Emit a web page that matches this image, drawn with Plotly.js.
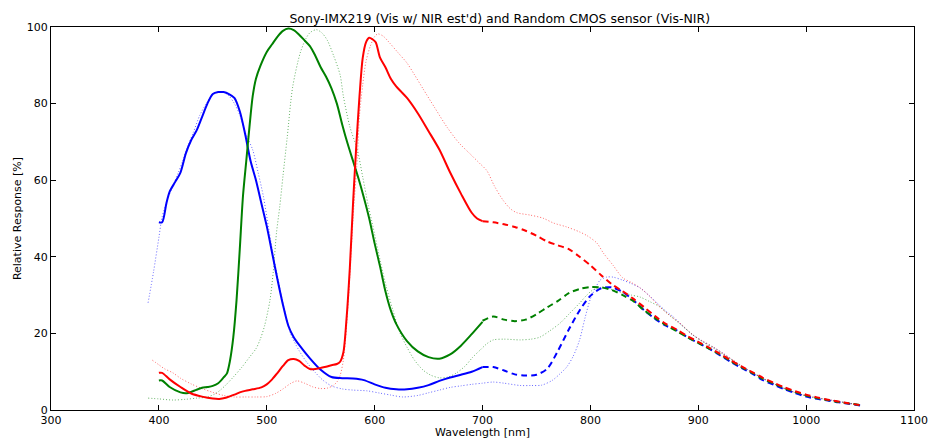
<!DOCTYPE html>
<html><head><meta charset="utf-8">
<script src="https://cdn.plot.ly/plotly-3.0.1.min.js"></script>
<style>html,body{margin:0;padding:0;background:#fff}#chart{width:928px;height:439px}</style>
</head><body><div id="chart"></div>
<script>
// Sony IMX219 measured (solid, Vis) — wavelength [nm] and relative response [%]
const imxBlueX = [400,403,407,410,415,420,425,430,435,440,445,450,455,460,465,470,475,480,485,490,495,500,505,510,515,520,525,530,540,550,560,570,580,590,600,610,620,630,640,650,660,670,680,690,700];
const imxBlueY = [49,49,54,57,59.5,62,67,70.5,73,76.5,80,82.5,83,83,82.5,81.5,78,72,65,60,54,48,41,34,27.5,22,19,17,13.5,10.5,8.6,8.3,8.2,7.8,6.7,5.8,5.4,5.4,5.8,6.5,7.6,8.5,9.2,10,11.2];
const imxGreenX = [400,403,410,420,426,435,440,445,450,455,460,463,466,469,472,475,478,481,484,487,490,494,500,505,510,515,520,525,530,535,540,545,550,555,560,565,570,575,580,585,590,595,600,605,610,615,620,630,640,650,660,670,680,690,700];
const imxGreenY = [7.7,7.7,6,4.6,4.4,5.3,5.8,6,6.3,7,8.5,9.5,13,19,28.7,42,56,65,74,82,86.5,89.8,93.5,95.5,97.5,99,99.6,99.2,98,96.5,95,92.5,89.5,87,84,80,74.5,69.5,65,60.5,55.5,50,43.5,37.5,31,26,22.5,18,15.3,13.8,13.4,14.5,16.8,19.8,23];
const imxRedX = [400,403,410,420,430,440,450,456,462,470,475,480,487,495,500,505,510,515,520,525,530,535,540,545,550,555,560,565,568,571,574,577,580,583,586,589,592,595,598,601,605,610,615,620,625,630,640,650,660,670,680,690,695,700];
const imxRedY = [9.7,9.7,8,6,4.3,3.5,3,2.9,3.2,4,4.6,5,5.4,5.9,6.7,8,9.7,11.5,13,13.3,12.8,11.6,10.7,10.7,11,11.3,11.7,12,12.6,15,24,37,54,69,82,92,96,97.2,96.8,96,92,89.5,86.5,84.5,83,81.5,77.5,72.8,68,62,56.5,51.5,50,49.3];

// Sony IMX219 estimated NIR (dashed)
const nirX = [700,710,720,730,740,750,760,770,780,790,800,810,820,830,840,850,860,870,880,890,900,910,920,930,940,950,960,970,980,990,1000,1010,1020,1030,1040,1050];
const nirBlueY = [11.2,11.2,10.3,9.3,9,9.2,10.8,15.5,21,26,29.8,31.8,32,30.8,28.6,26,23.8,22,20.8,19,17.5,16,14.3,12.6,11,9.5,7.8,6.6,5.4,4.4,3.5,2.9,2.5,2,1.6,1.2];
const nirGreenY = [23.3,24.4,23.6,23.2,23.6,25,26.8,28.5,30.5,31.6,32.1,32,31.3,30,28.4,26,24,22.2,20.6,19,17.5,16,14.5,12.8,11.2,9.7,8.1,6.9,5.7,4.7,3.8,3.1,2.6,2.1,1.7,1.3];
const nirRedY = [49.3,49,48.5,47.8,46.8,45.5,44,43,42,40,37.8,35.2,32.8,31,29,26.8,24.5,22.5,21,19.3,17.8,16.3,14.7,13,11.4,9.9,8.4,7.1,5.9,4.9,4,3.3,2.7,2.2,1.7,1.3];

// Random CMOS sensor (dotted, Vis-NIR)
const cmosBlueX = [390,395,400,403,408,413,418,422,427,432,438,445,450,455,460,465,470,475,480,487,492,497,502,507,512,517,522,530,537,545,552,560,570,580,593,605,615,626,640,650,660,670,680,690,700,710,720,735,745,755,765,772,778,784,790,795,800,805,809,815,821,830,838,846,854,862,870,877,886,895,904,914,923,932,941,951,960,969,978,988,997,1006,1015,1025,1037,1050];
const cmosBlueY = [28,36,45,50.4,55,58.5,62,65,69,72.5,77,80.5,82.5,83,83,82,80,77,72.5,67.9,62,55.6,47,39,32,25.5,20,15.5,12.5,9.8,7.8,6.3,5.5,5.2,5,4.4,3.9,3.4,3.8,4.5,5.2,5.9,6.3,6.7,7,7.3,7,6.4,6.4,6.5,7.8,9.5,11.2,14,18.3,24,29,32,33.9,34.7,34.7,33.9,33,31.9,30,27.9,25.8,24.3,21.8,19.6,18,16.4,14.8,13,11.3,9.7,8.2,7,5.8,4.7,3.9,3.4,2.9,2.5,1.9,1.3];
const cmosGreenX = [390,400,413,425,435,445,452,457,463,469,477,484,490,494,498,503,506,509,512,515,519,524,531,536,540,546,551,556,562,568,571,577,584,589,594,598,605,611,617,623,630,637,645,652,660,668,676,684,691,698,704,710,720,735,745,753,762,772,781,790,796,802,809,815,821,830,838,846,855,864,873,883,895,904,914,923,932,941,951,960,969,978,988,997,1006,1015,1025,1037,1050];
const cmosGreenY = [3.1,2.9,2.6,2.8,3.1,3.4,4.2,5.2,6.8,8.6,11.2,13.8,16,18.5,22,28.7,36,46.2,53,61,71.3,84.3,93.2,96.8,98.5,99.3,98.5,96.6,92.5,87.5,82,74,67.9,60.8,53.5,48.5,39.2,32,26,20.5,16.4,13,10.4,9.1,8.4,8.6,9.7,11.5,13.8,15.7,17.3,18.3,18.5,18.3,18.5,19,20.6,22.7,25.3,27.9,29.8,31.3,32,32.1,31.3,30.6,30,29.5,28.3,27,24.8,22.5,19.6,17.8,16.2,14.6,12.9,11.3,9.6,8.2,7,5.8,4.7,3.9,3.3,2.9,2.4,1.9,1.3];
const cmosRedX = [394,400,405,413,420,430,440,450,460,470,480,490,500,508,515,522,528,535,543,550,556,561,565,568,571,574,577,580,584,586,589,592,596,600,603,608,614,622,630,637,645,656,667,678,688,697,704,711,719,726,732,744,756,766,778,790,797,806,812,821,830,838,846,855,864,873,883,895,904,914,923,932,941,951,960,969,978,988,997,1006,1015,1025,1037,1050];
const cmosRedY = [13,11.8,10.8,9.7,8.3,6.8,5.6,4.6,3.8,3.4,3.4,3.4,3.5,4.3,5.5,6.9,7.6,7,6,5.6,5.7,6.3,7.3,9,13,22,35,50,66,77,85,91,95,97.5,98.2,97.6,95.8,93.2,90.6,87.5,83.8,78.8,73.9,69.8,67,64.5,62.5,58.5,54.8,52.5,51.5,50.9,50.1,48.8,47.8,46.5,45.5,43.6,41,37.8,34.5,33.3,31.9,29.7,27,24.8,22.7,19.6,18,16.4,14.8,13.1,11.4,9.7,8.3,7.1,5.9,4.8,4,3.4,3,2.5,1.9,1.3];

const xTicks = [300,400,500,600,700,800,900,1000,1100];
const yTicks = [0,20,40,60,80,100];

const BLUE = '#0000ff', GREEN = '#008000', RED = '#ff0000';
function tr(x, y, color, dash, width, opacity) {
  return {x: x, y: y, type: 'scatter', mode: 'lines', hoverinfo: 'skip', opacity: opacity,
          line: {color: color, dash: dash, width: width, shape: 'spline', smoothing: 0.8}};
}
const data = [
  tr(cmosBlueX, cmosBlueY, BLUE, '1px,2px', 1, 0.6),
  tr(cmosGreenX, cmosGreenY, GREEN, '1px,2px', 1, 0.6),
  tr(cmosRedX, cmosRedY, RED, '1px,2px', 1, 0.6),
  tr(nirX, nirBlueY, BLUE, '6px,4px', 2, 1),
  tr(nirX, nirGreenY, GREEN, '6px,4px', 2, 1),
  tr(nirX, nirRedY, RED, '6px,4px', 2, 1),
  tr(imxBlueX, imxBlueY, BLUE, 'solid', 2, 1),
  tr(imxGreenX, imxGreenY, GREEN, 'solid', 2, 1),
  tr(imxRedX, imxRedY, RED, 'solid', 2, 1)
];
const font = {family: 'DejaVu Sans, sans-serif', size: 11, color: '#000'};
const layout = {
  width: 928, height: 439,
  margin: {l: 51, r: 14, t: 27, b: 29},
  paper_bgcolor: '#fff', plot_bgcolor: '#fff',
  showlegend: false, font: font,
  title: {text: "Sony-IMX219 (Vis w/ NIR est'd) and Random CMOS sensor (Vis-NIR)", font: {family: 'DejaVu Sans, sans-serif', size: 12.5, color: '#000'}, x: 0.52, xref: 'paper', y: 0.958, yref: 'container', yanchor: 'middle'},
  xaxis: {range: [300, 1100], tickvals: xTicks, ticktext: xTicks.map(String), ticks: 'inside', ticklen: 5, tickcolor: '#000',
          showline: true, linecolor: '#000', linewidth: 1, mirror: 'allticks', showgrid: false, zeroline: false,
          title: {text: 'Wavelength [nm]', font: font, standoff: 4}},
  yaxis: {range: [0, 100], tickvals: yTicks, ticktext: yTicks.map(String), ticks: 'inside', ticklen: 5, tickcolor: '#000',
          showline: true, linecolor: '#000', linewidth: 1, mirror: 'allticks', showgrid: false, zeroline: false,
          title: {text: 'Relative Response [%]', font: font, standoff: 2}}
};
Plotly.newPlot('chart', data, layout, {displayModeBar: false, staticPlot: true});
</script></body></html>
